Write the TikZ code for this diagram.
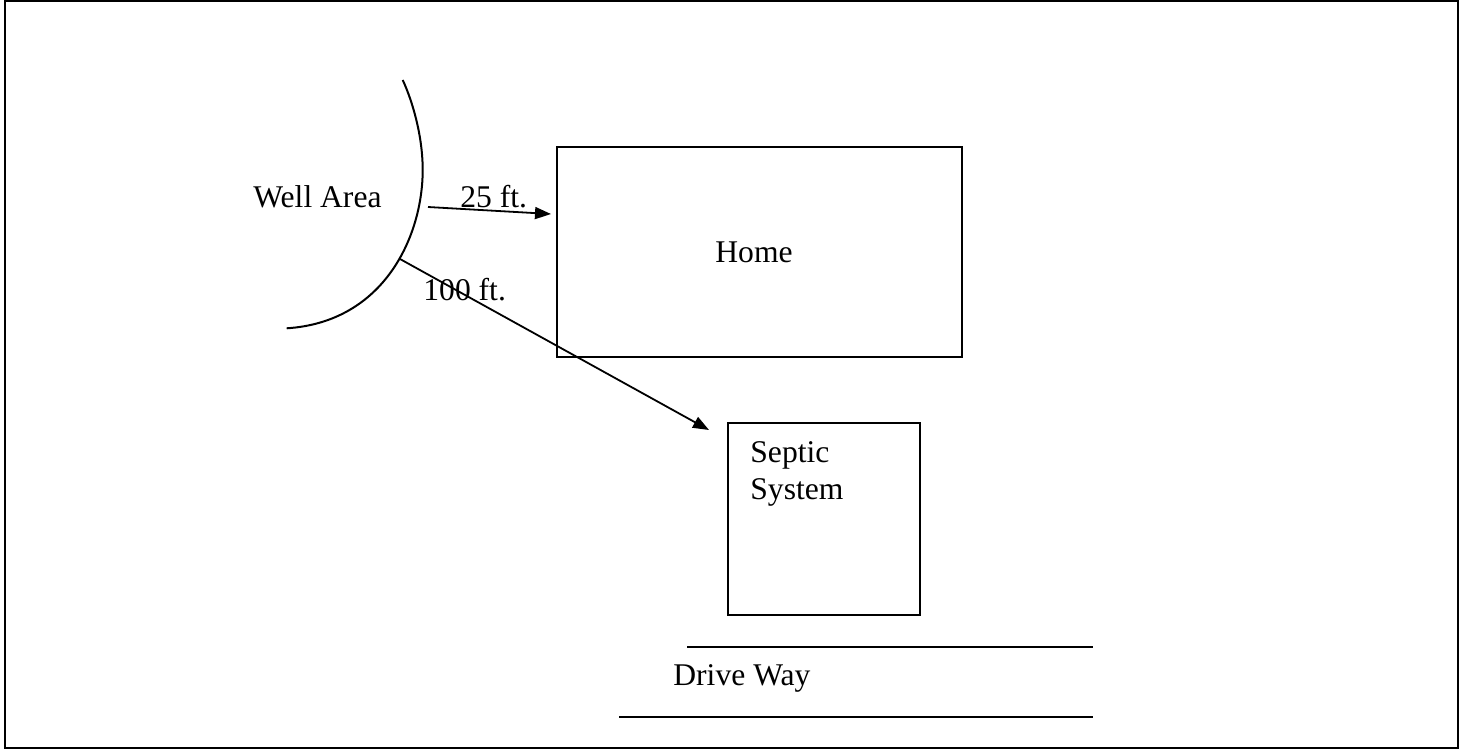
\documentclass[tikz,border=0pt]{standalone}
\usepackage{fontspec}
\setmainfont{Liberation Serif}
\usetikzlibrary{arrows.meta}
\tikzset{
  x=0.5pt, y=-0.5pt,
  lbl/.style={anchor=base west, inner sep=0pt, font=\fontsize{15.8pt}{19pt}\selectfont},
  boxshape/.style={draw, line width=1pt, inner sep=0pt},
  arr/.style={line width=0.9pt, -{Triangle[length=8pt, width=6pt]}},
  plain/.style={line width=1pt},
}
\begin{document}
\begin{tikzpicture}
\useasboundingbox (0,0) rectangle (1469,750);
% frame
\draw[line width=0.8pt] (5,1) rectangle (1458,748);
% boxes
\node[boxshape, minimum width=202.5pt, minimum height=105pt] (home) at (759.5,252) {};
\node[boxshape, minimum width=96pt, minimum height=96pt] (septic) at (824,519) {};
% well arc
\coordinate (arcA) at (402.7,80);
\coordinate (arcB) at (422.7,170);
\coordinate (arcC) at (286.7,328.3);
\draw[plain] (arcA) .. controls (412,100) and (422.7,135) .. (arcB)
  .. controls (422.7,235) and (385,322) .. (arcC);
% texts
\node[lbl] (well) at (253,207) {Well Area};
\node[lbl] (t25) at (460,207) {25 ft.};
\node[lbl] (t100) at (423,300) {100 ft.};
\node[lbl] (hometxt) at (715,262) {Home};
\node[lbl] (sep1) at (750,462) {Septic};
\node[lbl] (sep2) at (750,499) {System};
\node[lbl] (drive) at (673,685) {Drive Way};
% arrows
\coordinate (a25s) at (428,207);
\coordinate (a25e) at (551,214);
\coordinate (a100s) at (400,259);
\coordinate (a100e) at (709,430);
\draw[arr] (a25s) -- (a25e);
\draw[arr] (a100s) -- (a100e);
% driveway lines
\coordinate (d1a) at (687,647);
\coordinate (d1b) at (1093,647);
\coordinate (d2a) at (619,717);
\coordinate (d2b) at (1093,717);
\draw[plain] (d1a) -- (d1b);
\draw[plain] (d2a) -- (d2b);
\end{tikzpicture}
\end{document}
